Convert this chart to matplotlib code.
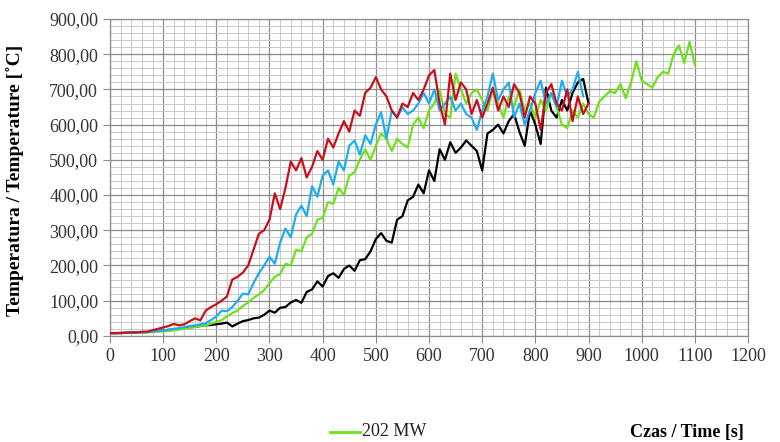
import numpy as np
import matplotlib
matplotlib.use("Agg")
import matplotlib.pyplot as plt
from matplotlib.ticker import MultipleLocator, FuncFormatter

# ---- data (time step 10 s) ----
red_t = list(range(0, 901, 10))
red_v = [8, 8, 9, 9, 10, 10, 12, 12, 16, 20, 24, 28, 34, 30, 33, 42, 50, 44, 72, 82,
         90, 100, 112, 160, 168, 180, 200, 245, 290, 300, 330, 405, 360, 420, 495, 470, 505, 450, 480, 525,
         500, 560, 535, 575, 610, 580, 640, 625, 690, 705, 735, 700, 680, 640, 620, 660, 650, 690, 670, 700,
         740, 755, 660, 600, 745, 670, 720, 700, 630, 670, 620, 660, 705, 640, 680, 650, 715, 690, 620, 680,
         660, 585, 690, 715, 660, 640, 700, 610, 680, 630, 660]

blue_t = list(range(0, 891, 10))
blue_v = [8, 8, 8, 9, 9, 10, 10, 11, 12, 14, 15, 18, 20, 22, 25, 28, 30, 33, 36, 45,
          55, 72, 70, 82, 100, 120, 118, 150, 178, 200, 225, 205, 265, 305, 280, 345, 370, 340, 425, 395,
          455, 470, 430, 495, 470, 540, 555, 515, 570, 545, 600, 635, 560, 640, 620, 650, 630, 640, 660, 690,
          660, 700, 640, 660, 680, 640, 660, 630, 620, 585, 640, 680, 745, 670, 700, 720, 620, 660, 600, 640,
          690, 725, 660, 690, 650, 725, 680, 700, 750, 680]

green_t = list(range(0, 1101, 10))
green_v = [8, 8, 8, 9, 9, 9, 10, 10, 11, 12, 13, 14, 16, 18, 20, 22, 25, 28, 30, 35,
           40, 45, 55, 65, 72, 85, 95, 108, 118, 130, 150, 168, 175, 205, 200, 245, 240, 280, 290, 330,
           335, 380, 375, 420, 400, 455, 465, 500, 530, 500, 540, 575, 560, 525, 560, 545, 535, 600, 620, 590,
           640, 660, 700, 630, 620, 745, 700, 660, 690, 700, 670, 640, 700, 660, 620, 680, 650, 700, 640, 660,
           620, 670, 640, 690, 650, 600, 590, 640, 620, 660, 630, 620, 665, 680, 695, 690, 715, 675, 720, 780,
           725, 715, 705, 735, 750, 745, 800, 825, 775, 835, 770]

black_t = list(range(0, 901, 10))
black_v = [8, 8, 8, 9, 9, 10, 10, 11, 12, 14, 15, 17, 19, 20, 22, 24, 26, 28, 30, 31,
           33, 35, 38, 27, 35, 42, 45, 50, 52, 60, 72, 66, 80, 82, 95, 102, 94, 125, 132, 155,
           140, 170, 178, 165, 190, 200, 185, 215, 218, 240, 275, 292, 270, 265, 330, 340, 385, 395, 430, 405,
           470, 440, 530, 500, 550, 520, 535, 555, 540, 525, 470, 575, 585, 600, 575, 610, 630, 580, 540, 640,
           600, 545, 705, 640, 620, 670, 640, 690, 720, 730, 660]

legend_label = "202 MW"
x_label = "Czas / Time [s]"
y_label = "Temperatura / Temperature [˚C]"

serif = ["Liberation Serif", "DejaVu Serif"]
plt.rcParams["font.family"] = serif

fig = plt.figure(figsize=(7.8, 4.42), dpi=100)
ax = fig.add_axes([0.141, 0.24, 0.818, 0.717])

c_red = "#C8101C"
c_blue = "#1EAEEE"
c_green = "#6EE01C"
c_black = "#000000"
lw = 1.6

ax.plot(black_t, black_v, color=c_black, lw=lw, zorder=3)
ax.plot(green_t, green_v, color=c_green, lw=lw, zorder=4)
ax.plot(blue_t, blue_v, color=c_blue, lw=lw, zorder=5)
ax.plot(red_t, red_v, color=c_red, lw=lw, zorder=6)

ax.set_xlim(0, 1200)
ax.set_ylim(0, 900)
ax.xaxis.set_major_locator(MultipleLocator(100))
ax.xaxis.set_minor_locator(MultipleLocator(20))
ax.yaxis.set_major_locator(MultipleLocator(100))
ax.yaxis.set_minor_locator(MultipleLocator(20))
ax.yaxis.set_major_formatter(FuncFormatter(lambda v, p: f"{v:.2f}".replace(".", ",")))
ax.grid(which="major", color="#8c8c8c", lw=0.9)
ax.grid(which="minor", color="#c8c8c8", lw=0.7)
ax.set_axisbelow(True)
ax.tick_params(which="minor", length=0)
ax.tick_params(which="major", length=5, color="#8c8c8c", labelsize=13, colors="#333333")
for s in ax.spines.values():
    s.set_color("#8c8c8c")
    s.set_linewidth(0.9)

ax.set_ylabel(y_label, fontsize=14, fontweight="bold")
ax.yaxis.set_label_coords(-0.135, 0.49)

# legend (only 202 MW shown) and x label at the bottom
fig.lines.append(plt.Line2D([330 / 780, 360 / 780], [1 - 432 / 442] * 2,
                            transform=fig.transFigure, color=c_green, lw=2))
fig.text(362 / 780, 1 - 432 / 442, legend_label, fontsize=13, va="center", ha="left", color="#222222")
fig.text(687 / 780, 1 - 432 / 442, x_label, fontsize=13, fontweight="bold", va="center", ha="center")

fig.savefig("out.png", dpi=100)
